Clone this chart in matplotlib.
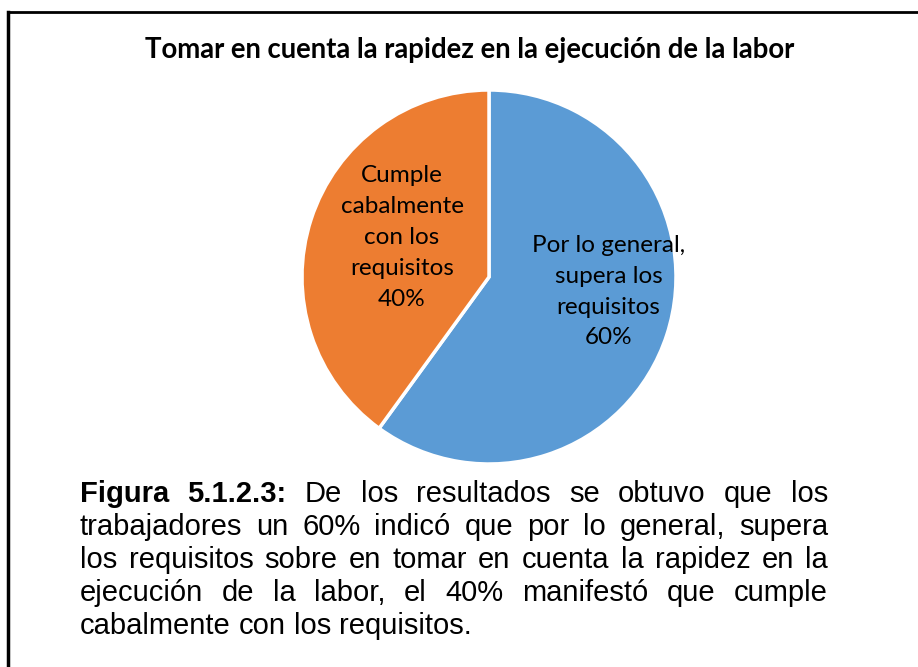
import matplotlib
matplotlib.use("Agg")
import matplotlib.pyplot as plt
from matplotlib.lines import Line2D

# ---- data ----
title = "Tomar en cuenta la rapidez en la ejecución de la labor"
categories = ["Por lo general,\nsupera los\nrequisitos", "Cumple\ncabalmente\ncon los\nrequisitos"]
values = [60, 40]
colors = ["#5B9BD5", "#ED7D31"]
caption_bold = "Figura 5.1.2.3:"
caption_lines = [
    "De los resultados se obtuvo que los",
    "trabajadores un 60% indicó que por lo general, supera",
    "los requisitos sobre en tomar en cuenta la rapidez en la",
    "ejecución de la labor, el 40% manifestó que cumple",
    "cabalmente con los requisitos.",
]

W, H = 918, 667
fig = plt.figure(figsize=(W / 100, H / 100), dpi=100)

# frame lines (top and left)
fig.add_artist(Line2D([8 / W, 1], [1 - 12 / H, 1 - 12 / H], color="black", lw=2, transform=fig.transFigure))
fig.add_artist(Line2D([8 / W, 8 / W], [0, 1 - 12 / H], color="black", lw=2.5, transform=fig.transFigure))

# title
fig.text(470 / W, 1 - 50 / H, title, ha="center", va="center", fontsize=19.8,
         fontweight="bold", family="Lato")

# pie
cx, cy, r = 489, 277, 187
ax = fig.add_axes([(cx - r) / W, (H - cy - r) / H, 2 * r / W, 2 * r / H])
ax.pie(values, colors=colors, startangle=90, counterclock=False, radius=1,
       wedgeprops=dict(edgecolor="white", linewidth=2.5))
ax.set_xlim(-1, 1)
ax.set_ylim(-1, 1)
ax.set_aspect("equal")
ax.axis("off")

label_pos = [(0.64, -0.078), (-0.465, 0.211)]
for cat, v, (lx, ly) in zip(categories, values, label_pos):
    ax.text(lx, ly, f"{cat}\n{v}%", ha="center", va="center", fontsize=17.5,
            family="Lato", linespacing=1.58, color="black")

# caption, justified
x0, x1 = 80, 828
y_first = 494
dy = 33
fs = 21
fig.canvas.draw()
renderer = fig.canvas.get_renderer()

def measure(s, weight="normal"):
    t = fig.text(0, 0, s, fontsize=fs, family="Liberation Sans", fontweight=weight)
    w = t.get_window_extent(renderer).width
    t.remove()
    return w

space_w = measure("a b") - measure("ab")
for i, line in enumerate(caption_lines):
    words = []
    if i == 0:
        words += [(w, "bold") for w in caption_bold.split()]
    words += [(w, "normal") for w in line.split()]
    widths = [measure(w, wt) for w, wt in words]
    y = 1 - (y_first + i * dy) / H
    if i < len(caption_lines) - 1:
        gap = (x1 - x0 - sum(widths)) / (len(words) - 1)
    else:
        gap = space_w
    x = x0
    for (w, wt), wd in zip(words, widths):
        fig.text(x / W, y, w, fontsize=fs, family="Liberation Sans", fontweight=wt,
                 ha="left", va="center")
        x += wd + gap

fig.savefig("out.png", dpi=100)
